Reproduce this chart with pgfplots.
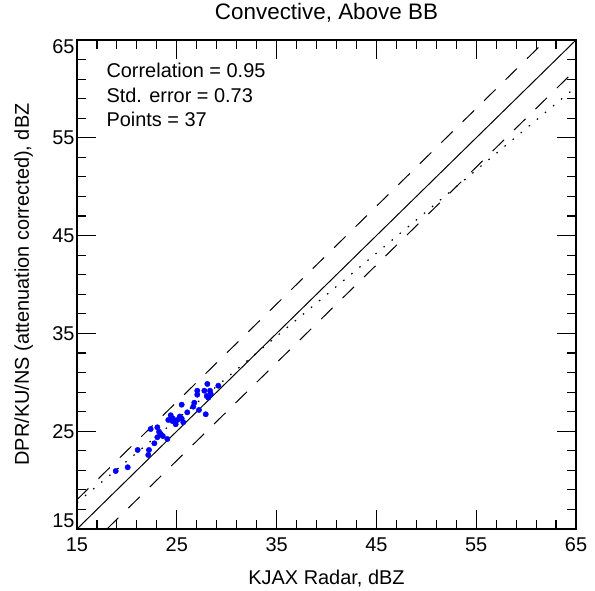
\documentclass[border=0pt]{standalone}
\usepackage{fontspec}
\setmainfont{Liberation Sans}
\usepackage{pgfplots}
\pgfplotsset{compat=1.18}

\begin{document}
\begin{tikzpicture}
\begin{axis}[
    scale only axis,
    width=499bp, height=489bp,
    xmin=15, xmax=65, ymin=15, ymax=65,
    xtick={15,25,35,45,55,65},
    ytick={15,25,35,45,55,65},
    % end labels on the y axis sit inside the box, as in the original
    yticklabels={\raisebox{8bp}[\height][\depth]{15},25,35,45,55,\raisebox{-7bp}[\height][\depth]{65}},
    minor tick num=4,
    tick align=inside,
    xtick pos=both, ytick pos=both,
    major tick length=19bp,
    minor tick length=9bp,
    every tick/.style={black, line width=1.1bp},
    axis line style={line width=1.5bp},
    /pgf/number format/assume math mode=true,
    tick label style={font=\fontsize{20}{24}\selectfont},
    xticklabel style={yshift=-5bp},
    yticklabel style={xshift=1bp},
    title={Convective, Above BB},
    title style={at={(axis description cs:0.5,1.0307)}, anchor=base,
        font=\fontsize{22.5}{27}\selectfont},
    xlabel={KJAX Radar, dBZ},
    xlabel style={at={(axis description cs:0.5,-0.1125)}, anchor=base,
        font=\fontsize{20}{24}\selectfont},
    ylabel={DPR/KU/NS (attenuation corrected), dBZ},
    ylabel style={at={(axis description cs:-0.0962,0.5)}, anchor=base,
        font=\fontsize{20}{24}\selectfont},
]
% one-to-one line and +/- 3 dB lines
\addplot[black, line width=1bp] coordinates {(15,15) (65,65)};
\addplot[black, line width=1bp, dash pattern=on 16bp off 14bp] coordinates {(15,18) (62,65)};
\addplot[black, line width=1bp, dash pattern=on 16bp off 14bp] coordinates {(18,15) (65,62)};
% fitted line
\addplot[black, line width=1.2bp, dash pattern=on 1.5bp off 9bp] coordinates {(15,17.7) (65,60.2)};

% matched samples
\addplot[only marks, mark=*, mark size=2.7bp, color=blue] coordinates {
    (28.06,29.83) (29.16,29.65) (27.76,29.14) (28.33,29.14) (27.05,28.73)
    (28.00,28.60) (28.40,28.80) (25.49,27.71) (26.75,27.91) (26.65,27.51)
    (26.05,26.93) (27.22,27.17) (27.90,26.73) (24.39,26.63) (24.15,26.15)
    (24.55,26.04) (25.05,26.15) (25.49,26.28) (25.65,25.91) (24.89,25.71)
    (22.38,25.22) (23.05,25.40) (23.22,24.95) (23.39,24.71) (23.05,24.38)
    (24.05,24.20) (22.75,23.76) (21.08,23.08) (22.21,23.08) (22.14,22.57)
    (18.88,20.93) (20.08,21.31) (28.16,28.43) (27.05,29.14) (25.30,26.50)
    (23.60,24.50) (24.60,26.30)
};

\node[anchor=base west, font=\fontsize{20}{24}\selectfont]
    at (axis description cs:0.0521,0.9243) {Correlation = 0.95};
\node[anchor=base west, font=\fontsize{20}{24}\selectfont]
    at (axis description cs:0.0521,0.8732) {Std. error = 0.73};
\node[anchor=base west, font=\fontsize{20}{24}\selectfont]
    at (axis description cs:0.0521,0.8221) {Points = 37};
\end{axis}
\pgfresetboundingbox
\path (-77bp,-62bp) rectangle (518bp,529bp);
\end{tikzpicture}
\end{document}
